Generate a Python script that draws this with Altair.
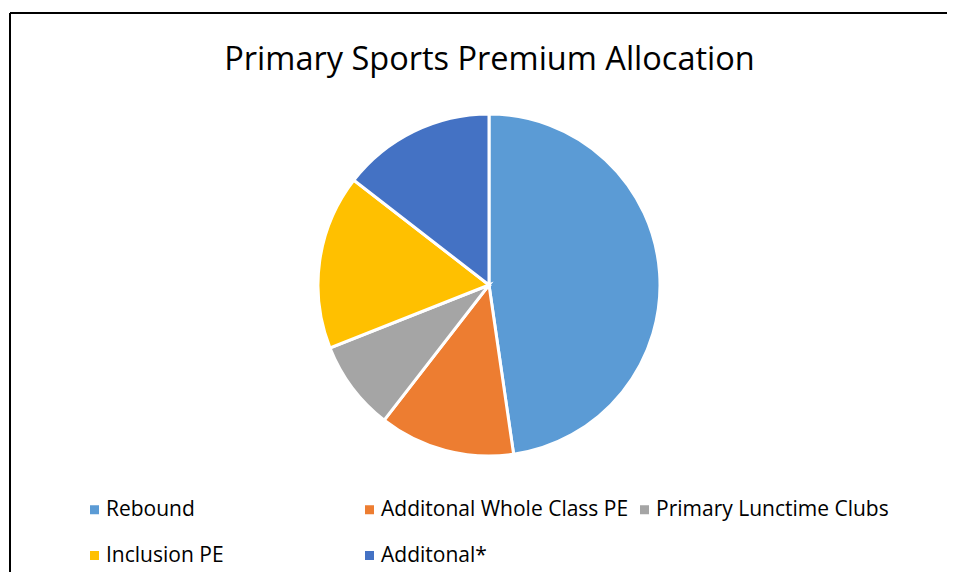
import altair as alt
import pandas as pd

categories = ["Rebound", "Additonal Whole Class PE", "Primary Lunctime Clubs", "Inclusion PE", "Additonal*"]
shares = [47.7, 12.8, 8.5, 16.5, 14.5]
colors = ["#5B9BD5", "#ED7D31", "#A5A5A5", "#FFC000", "#4472C4"]
title_text = "Primary Sports Premium Allocation"

df = pd.DataFrame({"category": categories, "share": shares, "idx": list(range(len(categories)))})
frame = pd.DataFrame({"k": [0]})

W, H = 937, 559

pie = alt.Chart(df).mark_arc(radius=171, stroke="white", strokeWidth=3).encode(
    theta=alt.Theta("share:Q", stack=True),
    color=alt.Color(
        "category:N",
        scale=alt.Scale(domain=categories, range=colors),
        sort=categories,
        legend=alt.Legend(
            title=None, orient="none", legendX=74, legendY=486, direction="horizontal",
            columns=3, gridAlign="all", symbolType="square", symbolSize=81, symbolStrokeWidth=0,
            labelFont="Open Sans", labelFontSize=21, labelColor="#000000", labelOffset=1,
            columnPadding=5, rowPadding=24, padding=0, labelLimit=400,
        ),
    ),
    order=alt.Order("idx:Q"),
    x=alt.value(479),
    y=alt.value(272),
)

left_rule = alt.Chart(frame).mark_rule(color="black", strokeWidth=2).encode(
    x=alt.value(0), y=alt.value(0), y2=alt.value(H)
)
top_rule = alt.Chart(frame).mark_rule(color="black", strokeWidth=2).encode(
    y=alt.value(0), x=alt.value(0), x2=alt.value(W)
)

chart = alt.layer(pie, left_rule, top_rule).properties(
    width=W, height=H,
    padding={"left": 2, "top": 5, "right": 0, "bottom": 0},
    autosize="none",
    title=alt.Title(title_text, font="Open Sans", fontSize=32.5, fontWeight="normal", color="black",
                    anchor="middle", frame="group", baseline="alphabetic", offset=0, dy=90, dx=11),
).configure_view(stroke=None)

chart.save("out.html", embed_options={"renderer": "svg", "actions": False})
